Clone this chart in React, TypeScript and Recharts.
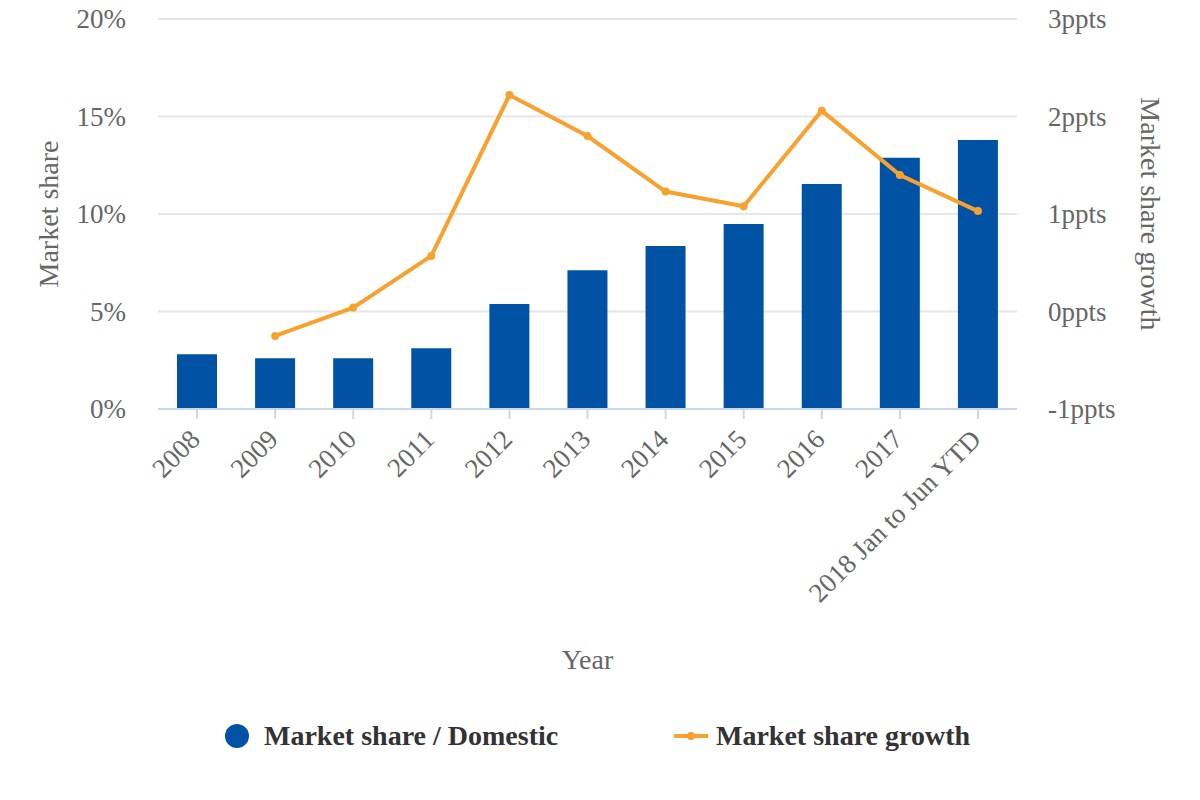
import React from "react";
import {
  ComposedChart,
  Bar,
  Line,
  XAxis,
  YAxis,
  CartesianGrid,
  Legend,
} from "recharts";

const categories = [
  "2008",
  "2009",
  "2010",
  "2011",
  "2012",
  "2013",
  "2014",
  "2015",
  "2016",
  "2017",
  "2018 Jan to Jun YTD",
];
const marketShare = [2.81, 2.6, 2.6, 3.12, 5.38, 7.12, 8.36, 9.49, 11.54, 12.88, 13.8];
const marketShareGrowth = [null, -0.25, 0.04, 0.57, 2.22, 1.8, 1.23, 1.08, 2.06, 1.4, 1.03];
const leftTicks = [0, 5, 10, 15, 20];
const rightTicks = [-1, 0, 1, 2, 3];

const data = categories.map((c, i) => ({
  year: c,
  share: marketShare[i],
  growth: marketShareGrowth[i],
}));

const FONT = "'Liberation Serif', 'Times New Roman', Times, serif";
const BAR_COLOR = "#0053a4";
const LINE_COLOR = "#f9a12e";

const XTick = (props: any) => {
  const { x, y, payload } = props;
  return (
    <g transform={`translate(${x + 4.5},${y + 20})`}>
      <text
        x={0}
        y={0}
        textAnchor="end"
        transform="rotate(-45)"
        fill="#666666"
        fontSize={27}
        fontFamily={FONT}
      >
        {payload.value}
      </text>
    </g>
  );
};

const LeftTick = (props: any) => {
  const { x, y, payload } = props;
  return (
    <text
      x={x}
      y={y + 9}
      textAnchor="end"
      fill="#666666"
      fontSize={27}
      fontFamily={FONT}
    >
      {`${payload.value}%`}
    </text>
  );
};

const RightTick = (props: any) => {
  const { x, y, payload } = props;
  return (
    <text
      x={x}
      y={y + 9}
      textAnchor="start"
      fill="#666666"
      fontSize={27}
      fontFamily={FONT}
    >
      {`${payload.value}ppts`}
    </text>
  );
};

const LeftTitle = (props: any) => {
  const vb = props.viewBox || {};
  const cx = vb.x + 40;
  const cy = vb.y + vb.height / 2;
  return (
    <text
      x={cx}
      y={cy}
      transform={`rotate(-90, ${cx}, ${cy})`}
      textAnchor="middle"
      dominantBaseline="central"
      fill="#666666"
      fontSize={28}
      fontFamily={FONT}
    >
      Market share
    </text>
  );
};

const RightTitle = (props: any) => {
  const vb = props.viewBox || {};
  const cx = vb.x + 133;
  const cy = vb.y + vb.height / 2;
  return (
    <text
      x={cx}
      y={cy}
      transform={`rotate(90, ${cx}, ${cy})`}
      textAnchor="middle"
      dominantBaseline="central"
      fill="#666666"
      fontSize={28}
      fontFamily={FONT}
    >
      Market share growth
    </text>
  );
};

const XTitle = (props: any) => {
  const vb = props.viewBox || {};
  const cx = vb.x + vb.width / 2;
  return (
    <text
      x={cx}
      y={vb.y + 260}
      textAnchor="middle"
      fill="#666666"
      fontSize={28}
      fontFamily={FONT}
    >
      Year
    </text>
  );
};

const LegendContent = () => (
  <div
    style={{
      position: "relative",
      height: 60,
      width: "100%",
      fontFamily: FONT,
      fontWeight: "bold",
      fontSize: 28,
      color: "#333333",
    }}
  >
    <svg
      width={26}
      height={26}
      style={{ position: "absolute", left: 216, top: 17 }}
    >
      <circle cx={13} cy={13} r={12} fill={BAR_COLOR} />
    </svg>
    <span style={{ position: "absolute", left: 256, top: 13, lineHeight: "34px", whiteSpace: "nowrap" }}>
      Market share / Domestic
    </span>
    <svg
      width={36}
      height={12}
      style={{ position: "absolute", left: 666, top: 24 }}
    >
      <line x1={0} y1={6} x2={34} y2={6} stroke={LINE_COLOR} strokeWidth={4} />
      <circle cx={17} cy={6} r={4} fill={LINE_COLOR} />
    </svg>
    <span style={{ position: "absolute", left: 708, top: 13, lineHeight: "34px", whiteSpace: "nowrap" }}>
      Market share growth
    </span>
  </div>
);

export default function App() {
  return (
    <div style={{ width: 1184, height: 792, marginTop: -8, background: "#ffffff" }}>
      <ComposedChart
        width={1184}
        height={792}
        data={data}
        margin={{ top: 19, right: 0, bottom: 26, left: 0 }}
        barCategoryGap={0}
      >
        <CartesianGrid
          yAxisId="left"
          vertical={false}
          stroke="#e6e6e6"
          strokeWidth={2}
        />
        <XAxis
          dataKey="year"
          interval={0}
          height={297}
          tickSize={10}
          tickMargin={2}
          tick={<XTick />}
          axisLine={{ stroke: "#ccd6eb", strokeWidth: 2 }}
          tickLine={{ stroke: "#ccd6eb", strokeWidth: 2 }}
          label={<XTitle />}
        />
        <YAxis
          yAxisId="left"
          orientation="left"
          width={150}
          domain={[0, 20]}
          ticks={leftTicks}
          axisLine={false}
          tickLine={false}
          tickSize={6}
          tickMargin={26}
          tick={<LeftTick />}
          label={<LeftTitle />}
        />
        <YAxis
          yAxisId="right"
          orientation="right"
          width={175}
          domain={[-1, 3]}
          ticks={rightTicks}
          axisLine={false}
          tickLine={false}
          tickSize={6}
          tickMargin={25}
          tick={<RightTick />}
          label={<RightTitle />}
        />
        <Legend verticalAlign="bottom" content={<LegendContent />} />
        <Bar
          yAxisId="left"
          dataKey="share"
          name="Market share / Domestic"
          fill={BAR_COLOR}
          barSize={40}
          isAnimationActive={false}
        />
        <Line
          yAxisId="right"
          dataKey="growth"
          name="Market share growth"
          stroke={LINE_COLOR}
          strokeWidth={4}
          dot={{ r: 4, fill: LINE_COLOR, stroke: LINE_COLOR, strokeWidth: 0 }}
          activeDot={false}
          isAnimationActive={false}
        />
      </ComposedChart>
    </div>
  );
}
